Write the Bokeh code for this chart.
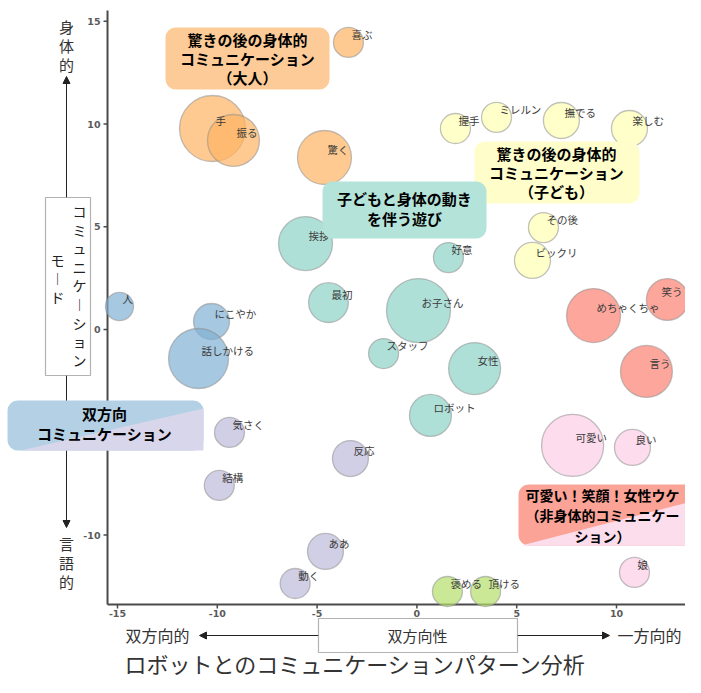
from bokeh.plotting import figure
from bokeh.models import (ColumnDataSource, BoxAnnotation, PolyAnnotation, Label,
                          Arrow, NormalHead, Range1d)
from bokeh.embed import file_html
from bokeh.resources import INLINE
from bokeh.core.properties import value

# ---------------- data ----------------
words = ["喜ぶ", "手", "振る", "驚く",
         "握手", "ミレルン", "撫でる", "楽しむ", "その後", "ビックリ",
         "挨拶", "最初", "好意", "お子さん", "スタッフ", "女性", "ロボット",
         "人", "にこやか", "話しかける",
         "気さく", "結構", "反応", "ああ", "動く",
         "褒める", "頂ける",
         "笑う", "めちゃくちゃ", "言う",
         "可愛い", "良い", "娘"]
# 双方向性 (x)
bidirectional = [-3.43, -10.24, -9.19, -4.63,
                 1.93, 3.99, 7.24, 10.65, 6.34, 5.79,
                 -5.58, -4.43, 1.58, 0.08, -1.67, 2.89, 0.68,
                 -14.9, -10.29, -10.94,
                 -9.39, -9.9, -3.33, -4.58, -6.1,
                 1.53, 3.44,
                 12.55, 8.85, 11.5,
                 7.8, 10.8, 10.9]
# コミュニケーションモード (y)
mode = [13.97, 9.78, 9.2, 8.37,
        9.78, 10.32, 10.17, 9.78, 4.96, 3.36,
        4.18, 1.31, 3.5, 0.92, -1.17, -1.9, -4.18,
        1.12, 0.39, -1.41,
        -5.01, -7.59, -6.28, -10.8, -12.36,
        -12.75, -12.75,
        1.46, 0.68, -2.04,
        -5.64, -5.74, -11.82]
freq = [25, 121, 75, 81,
        25, 25, 36, 36, 25, 36,
        81, 44, 25, 114, 25, 75, 49,
        22, 36, 100,
        25, 25, 36, 36, 25,
        25, 25,
        49, 81, 75,
        107, 36, 25]
cluster = [1] * 4 + [2] * 6 + [3] * 7 + [4] * 3 + [5] * 5 + [6] * 2 + [7] * 3 + [8] * 3
cluster_colors = {1: "#FDB462", 2: "#FFFFB3", 3: "#8DD3C7", 4: "#80B1D3",
                  5: "#BEBADA", 6: "#B3DE69", 7: "#FB8072", 8: "#FCCDE5"}
x_ticks = [-15, -10, -5, 0, 5, 10]
y_ticks = [-10, -5, 0, 5, 10, 15]
x_lim = (-15.5, 13.6)
y_lim = (-13.38, 15.52)
title_text = "ロボットとのコミュニケーションパターン分析"

# ---------------- layout ----------------
W, H = 685, 677
PX0, PXU = 416.4, 19.96   # canvas px of x=0, px per x unit
PY0, PYU = 329.0, 20.55   # canvas px of y=0, px per y unit
label_nudge = {"笑う": -9}  # repelled label near the right edge


def ix(px):
    return (px - PX0) / PXU


def iy(py):
    return (PY0 - py) / PYU


JP = "Noto Sans CJK JP"

p = figure(width=W, height=H, x_range=Range1d(ix(0), ix(W)), y_range=Range1d(iy(H), iy(0)),
           output_backend="svg", toolbar_location=None,
           min_border=0, min_border_left=0, min_border_right=0,
           min_border_top=0, min_border_bottom=0)
p.outline_line_color = None
p.grid.visible = False
p.axis.visible = False
p.background_fill_color = "white"
p.border_fill_color = "white"

# ---- axes drawn through the data scales ----
AX = "#4a4a4a"
p.segment(x0=[x_lim[0]], y0=[y_lim[0]], x1=[x_lim[1]], y1=[y_lim[0]], line_color=AX, line_width=2)
p.segment(x0=[x_lim[0]], y0=[y_lim[0]], x1=[x_lim[0]], y1=[y_lim[1]], line_color=AX, line_width=2)
tick_len_x = 4 / PXU
tick_len_y = 4 / PYU
p.segment(x0=[x_lim[0]] * len(y_ticks), y0=y_ticks,
          x1=[x_lim[0] - tick_len_x] * len(y_ticks), y1=y_ticks, line_color=AX, line_width=1.5)
p.segment(x0=x_ticks, y0=[y_lim[0]] * len(x_ticks),
          x1=x_ticks, y1=[y_lim[0] - tick_len_y] * len(x_ticks), line_color=AX, line_width=1.5)
p.text(x=[x_lim[0]] * len(y_ticks), y=y_ticks, text=[str(t) for t in y_ticks],
       x_offset=-7, text_align="right", text_baseline="middle",
       text_font=value("DejaVu Sans"), text_font_style="bold",
       text_font_size="9.5px", text_color="#5a5a5a")
p.text(x=x_ticks, y=[y_lim[0]] * len(x_ticks), text=[str(t) for t in x_ticks],
       y_offset=6, text_align="center", text_baseline="top",
       text_font=value("DejaVu Sans"), text_font_style="bold",
       text_font_size="9.5px", text_color="#5a5a5a")

# ---- bubbles ----
src = ColumnDataSource(dict(
    x=bidirectional, y=mode, word=words,
    d=[6 * f ** 0.5 for f in freq],
    dx=[3 + label_nudge.get(w, 0) for w in words],
    color=[cluster_colors[c] for c in cluster]))

p.scatter("x", "y", size="d", source=src, fill_color="color", fill_alpha=0.7,
          line_color="#8f8f8f", line_alpha=0.55, line_width=1.3)
p.text("x", "y", text="word", source=src, x_offset="dx", y_offset=-8,
       text_font=value(JP), text_font_size="10.5px", text_color="#3a3a3a",
       text_align="left", text_baseline="middle")


def box(l, r, t, b, color, radius=10, line=None):
    p.add_layout(BoxAnnotation(left=ix(l), right=ix(r), top=iy(t), bottom=iy(b),
                               fill_color=color, fill_alpha=1.0,
                               line_color=line, line_width=1.2,
                               border_radius=radius))


def poly(pts, color):
    p.add_layout(PolyAnnotation(xs=[ix(a) for a, _ in pts], ys=[iy(b) for _, b in pts],
                                fill_color=color, fill_alpha=1.0, line_color=None))


def label(x, y, text, size=15, bold=False, color="black", spacing=None, align="center"):
    lh = 1.0 if spacing is None else spacing / (size * 1.343)
    p.add_layout(Label(x=ix(x), y=iy(y), text=text, text_align=align,
                       text_baseline="middle", text_font=JP,
                       text_font_size=f"{size}px", text_color=color,
                       text_font_style="bold" if bold else "normal",
                       text_line_height=lh))


def arrow(x0, y0, x1, y1):
    p.add_layout(Arrow(x_start=ix(x0), y_start=iy(y0), x_end=ix(x1), y_end=iy(y1),
                       line_color="#222222", line_width=1,
                       end=NormalHead(size=7, fill_color="#222222", line_color="#222222")))


# cluster annotation boxes
box(165, 329, 27, 89, "#FDCB98")
label(247, 58, "驚きの後の身体的\nコミュニケーション\n（大人）", bold=True, spacing=18.5)

box(474, 639, 141, 203, "#FFFECB")
label(556, 172, "驚きの後の身体的\nコミュニケーション\n（子ども）", bold=True, spacing=18.5)

box(322, 486, 181, 238, "#B4E3D9")
label(404, 208, "子どもと身体の動き\nを伴う遊び", bold=True, spacing=19)

# vertical axis decoration
label(66, 45, "身\n体\n的", size=15, color="#333333", spacing=18)
arrow(66, 197, 66, 76)
arrow(66, 375, 66, 527)
box(45, 90, 197, 375, "white", radius=0, line="black")
label(79, 285, "コ\nミ\nュ\nニ\nケ\n︱\nシ\nョ\nン", size=14, color="#222222", spacing=17.4)
label(57, 278, "モ\n︱\nド", size=14, color="#222222", spacing=17.4)
label(66, 562, "言\n語\n的", size=15, color="#333333", spacing=18)

box(7, 203, 400, 450, "#B3D0E5")
poly([(20, 450), (203, 450), (203, 408)], "#D8D6EA")
label(104, 423, "双方向\nコミュニケーション", bold=True, spacing=19)

box(518, 714, 484, 545, "#FBA397")
poly([(521, 545), (714, 545), (714, 495)], "#FCDDEC")
label(602, 515, "可愛い！笑顔！女性ウケ\n（非身体的コミュニケー\nション）", size=14, bold=True, spacing=19)

# horizontal axis decoration
label(157, 634, "双方向的", size=16, color="#333333")
arrow(318, 635, 199, 635)
arrow(517, 635, 609, 635)
box(318, 517, 618, 652, "white", radius=0, line="black")
label(417, 635, "双方向性", size=15, color="#333333")
label(649, 634, "一方向的", size=16, color="#333333")

label(355, 662, title_text, size=22, color="#333333")

open("out.html", "w").write(file_html(p, INLINE))
